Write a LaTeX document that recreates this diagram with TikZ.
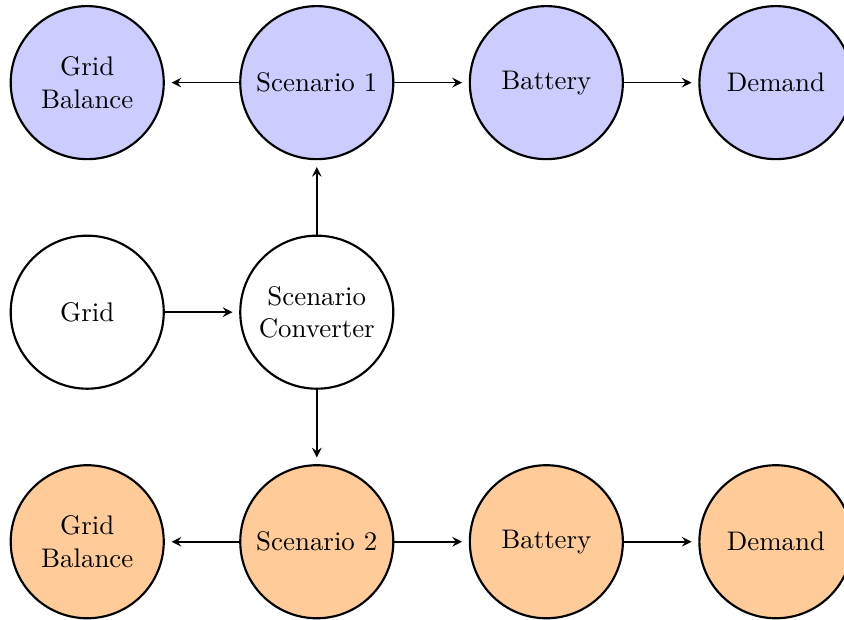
\documentclass[tikz,border=0pt]{standalone}
\usetikzlibrary{arrows}
\begin{document}
\begin{tikzpicture}[>=stealth,
  stato/.style={draw, thick, circle, minimum size=2cm, align=center},
  freccia/.style={->, semithick, shorten >=2.5pt}]

\useasboundingbox (-1.14,-4.01) rectangle (9.89,4.08);

%livello 1
\node[stato, fill=blue!20] at (0,3) (gb1) {Grid\\Balance};
\node[stato, fill=blue!20] at (3,3) (sc1) {Scenario 1};
\node[stato, fill=blue!20] at (6,3) (bat1) {Battery};
\node[stato, fill=blue!20] at (9,3) (dem1) {Demand};

%livello 0
\node[stato] at (0,0) (grid) {Grid};
\node[stato] at (3,0) (conv) {Scenario\\Converter};

%livello 2
\node[stato, fill=orange!40] at (0,-3) (gb2) {Grid\\Balance};
\node[stato, fill=orange!40] at (3,-3) (sc2) {Scenario 2};
\node[stato, fill=orange!40] at (6,-3) (bat2) {Battery};
\node[stato, fill=orange!40] at (9,-3) (dem2) {Demand};

% frecce
\draw[freccia] (grid) -- (conv);
\draw[freccia] (conv) -- (sc1);
\draw[freccia] (conv) -- (sc2);

\draw[freccia] (sc1) -- (gb1);
\draw[freccia] (sc1) -- (bat1);
\draw[freccia] (bat1) -- (dem1);

\draw[freccia] (sc2) -- (gb2);
\draw[freccia] (sc2) -- (bat2);
\draw[freccia] (bat2) -- (dem2);

\end{tikzpicture}
\end{document}
